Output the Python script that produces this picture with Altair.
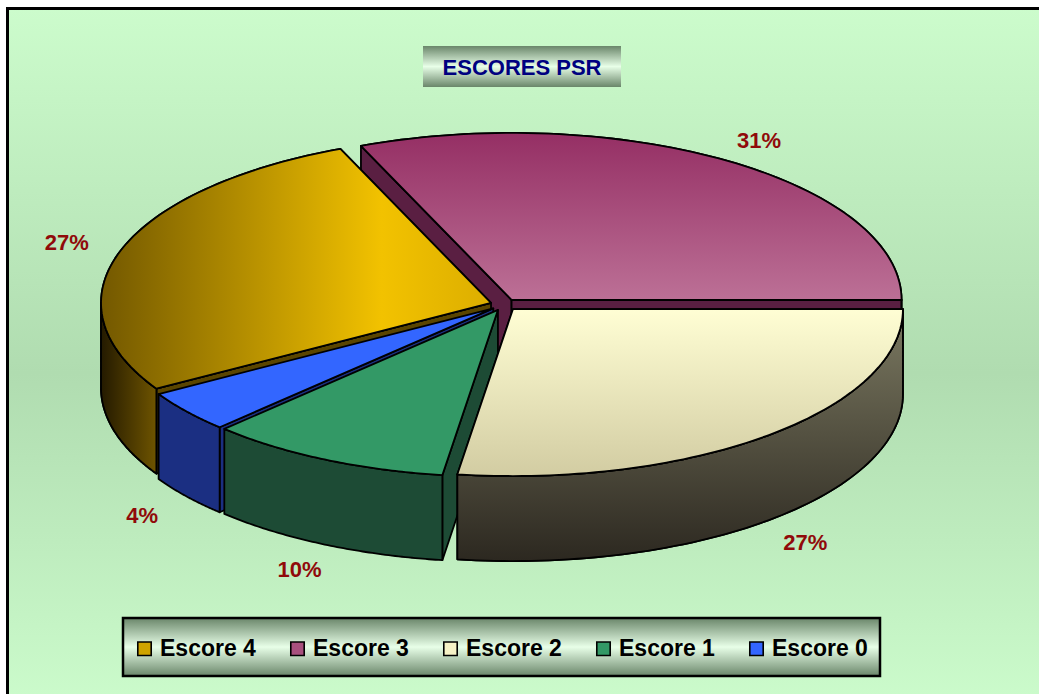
import altair as alt
import pandas as pd

# ---------------- data ----------------
categories = ["Escore 4", "Escore 3", "Escore 2", "Escore 1", "Escore 0"]
values = [27, 31, 27, 10, 4]

top_colors = ["#cfa400", "#a8507e", "#f6f2c6", "#339966", "#3366ff"]
wall_colors = ["#5a4500", "#5a1f42", "#5a5842", "#1d4b35", "#1b2f82"]
label_color = "#900a0a"

# ---------------- geometry / style parameters ----------------
W, H = 1039, 694
START = -120.9        # first slice angle (deg, clockwise from 12 o'clock)
TILT = 0.428          # ellipse y/x ratio
DEPTH = 0.218         # pie thickness (radius units)
EXPLODE = 0.035       # slice explosion (radius units)
N = 72                # arc resolution
LR = 1.18             # label radial factor
LDROP = 0.229         # label drop for front labels
X_DOMAIN = [-1.2923, 1.3718]
Y_DOMAIN = [-0.9982, 0.7813]

df = pd.DataFrame({"cat": categories, "value": values, "idx": list(range(len(values)))})

xs = alt.Scale(domain=X_DOMAIN, nice=False, zero=False)
ys = alt.Scale(domain=Y_DOMAIN, nice=False, zero=False)
X = alt.X("x:Q", scale=xs, axis=None)
Y = alt.Y("y:Q", scale=ys, axis=None)


def grad(stops, horizontal=False):
    return alt.Gradient(
        gradient="linear", x1=0, y1=0, x2=1 if horizontal else 0, y2=0 if horizontal else 1,
        stops=[alt.GradientStop(color=c, offset=o) for o, c in stops],
    )


# gradient overlays (style only)
top_grads = {
    "Escore 4": grad([(0, "#735800"), (0.72, "#f2c200"), (1, "#dcae00")], horizontal=True),
    "Escore 3": grad([(0, "#952f64"), (1, "#bc7096")]),
    "Escore 2": grad([(0, "#fffed4"), (1, "#d2cca2")]),
}
wall_grads = {
    "Escore 4": grad([(0, "#241a00"), (1, "#6e5400")], horizontal=True),
    "Escore 2": grad([(0, "#7c7a62"), (1, "#2c2820")]),
}


def base():
    return (
        alt.Chart(df)
        .transform_joinaggregate(total="sum(value)")
        .transform_window(cum="sum(value)", sort=[alt.SortField("idx")], frame=[None, 0])
        .transform_calculate(a1=f"{START} + 360*datum.cum/datum.total")
        .transform_calculate(a0="datum.a1 - 360*datum.value/datum.total")
        .transform_calculate(mid="(datum.a0 + datum.a1)/2")
        .transform_calculate(ex=f"{EXPLODE}*sin(datum.mid*PI/180)")
        .transform_calculate(ey=f"{EXPLODE * TILT}*cos(datum.mid*PI/180)")
    )


def faces_geom():
    return (
        base()
        .transform_calculate(s="sequence(0, 2)")
        .transform_flatten(["s"])
        .transform_calculate(fa="(datum.s == 0 ? datum.a0 : datum.a1)*PI/180")
        .transform_filter("datum.s == 0 ? sin(datum.fa) < 0 : sin(datum.fa) > 0")
        .transform_calculate(depth="cos(datum.fa)")
        .transform_window(r="row_number()", sort=[alt.SortField("depth", order="descending")])
        .transform_calculate(key="datum.cat + '-' + datum.s")
        .transform_calculate(p="sequence(0, 4)")
        .transform_flatten(["p"])
        .transform_calculate(rim="(datum.p == 1 || datum.p == 2) ? 1 : 0")
        .transform_calculate(x="datum.ex + datum.rim*sin(datum.fa)")
        .transform_calculate(y=f"datum.ey + datum.rim*{TILT}*cos(datum.fa) - (datum.p >= 2 ? {DEPTH} : 0)")
    )


def walls_geom():
    return (
        base()
        .transform_calculate(lo="datum.a0 < -90 ? datum.a0 : max(datum.a0, 90)")
        .transform_calculate(hi="datum.a0 < -90 ? min(datum.a1, -90) : min(datum.a1, 270)")
        .transform_filter("datum.hi > datum.lo")
        .transform_calculate(k=f"sequence(0, {2 * N + 2})")
        .transform_flatten(["k"])
        .transform_calculate(j=f"datum.k <= {N} ? datum.k : {2 * N + 1} - datum.k")
        .transform_calculate(th=f"(datum.lo + (datum.hi - datum.lo)*datum.j/{N})*PI/180")
        .transform_calculate(x="datum.ex + sin(datum.th)")
        .transform_calculate(y=f"datum.ey + {TILT}*cos(datum.th) - (datum.k <= {N} ? 0 : {DEPTH})")
    )


def tops_geom():
    return (
        base()
        .transform_calculate(k=f"sequence(-1, {N + 1})")
        .transform_flatten(["k"])
        .transform_calculate(th=f"(datum.a0 + (datum.a1 - datum.a0)*max(datum.k, 0)/{N})*PI/180")
        .transform_calculate(x="datum.ex + (datum.k < 0 ? 0 : sin(datum.th))")
        .transform_calculate(y=f"datum.ey + (datum.k < 0 ? 0 : {TILT}*cos(datum.th))")
    )


line_kw = dict(interpolate="linear-closed", stroke="black", strokeWidth=1.8, strokeJoin="round")
wall_scale = alt.Scale(domain=categories, range=wall_colors)

layers = []

# background and title
one = alt.Data(values=[{}])
bg = alt.Chart(one).mark_rect(
    fill=grad([(0, "#ccfccc"), (0.52, "#b0dcb0"), (1, "#ccfccc")]),
    stroke="black", strokeWidth=3,
).encode(x=alt.value(7.5), x2=alt.value(1060), y=alt.value(8.5), y2=alt.value(710))
box_grad = grad([(0, "#6a866a"), (0.5, "#e8ffe8"), (1, "#6a866a")])
title_box = alt.Chart(one).mark_rect(fill=box_grad).encode(
    x=alt.value(423), x2=alt.value(621), y=alt.value(46), y2=alt.value(87)
)
title_text = alt.Chart(one).mark_text(
    text="ESCORES PSR", font="Liberation Sans", fontSize=22, fontWeight="bold", color="#000080",
    align="center", baseline="middle",
).encode(x=alt.value(522), y=alt.value(68))
legend_box = alt.Chart(one).mark_rect(fill=box_grad, stroke="black", strokeWidth=2.5).encode(
    x=alt.value(123), x2=alt.value(880), y=alt.value(618), y2=alt.value(676)
)
layers += [bg, title_box, title_text, legend_box]

# radial cut faces, back to front
for r in range(1, 2 * len(categories) + 1):
    layers.append(
        faces_geom()
        .transform_filter(f"datum.r == {r}")
        .mark_line(**line_kw)
        .encode(x=X, y=Y, order="p:Q", detail="key:N", fill=alt.Fill("cat:N", scale=wall_scale, legend=None))
    )

# outer walls
layers.append(
    walls_geom().mark_line(**line_kw).encode(
        x=X, y=Y, order="k:Q", detail="cat:N", fill=alt.Fill("cat:N", scale=wall_scale, legend=None)
    )
)
for cat, g in wall_grads.items():
    layers.append(
        walls_geom().transform_filter(alt.datum.cat == cat).mark_line(fill=g, **line_kw)
        .encode(x=X, y=Y, order="k:Q", detail="cat:N")
    )

# top faces (with legend)
layers.append(
    tops_geom().mark_line(**line_kw).encode(
        x=X, y=Y, order="k:Q", detail="cat:N",
        fill=alt.Fill(
            "cat:N",
            scale=alt.Scale(domain=categories, range=top_colors),
            legend=alt.Legend(
                title=None,
                orient="none",
                legendX=133,
                legendY=637,
                direction="horizontal",
                symbolType="square",
                symbolSize=180,
                symbolStrokeColor="black",
                symbolStrokeWidth=1.6,
                labelFont="Liberation Sans",
                labelFontSize=23,
                labelFontWeight="bold",
                labelColor="black",
                labelOffset=4,
                columnPadding=30,
                padding=0,
            ),
        ),
    )
)
for cat, g in top_grads.items():
    layers.append(
        tops_geom().transform_filter(alt.datum.cat == cat).mark_line(fill=g, **line_kw)
        .encode(x=X, y=Y, order="k:Q", detail="cat:N")
    )

# percentage labels
layers.append(
    base()
    .transform_calculate(lx=f"{LR}*sin(datum.mid*PI/180)")
    .transform_calculate(ly=f"{LR * TILT}*cos(datum.mid*PI/180) - (cos(datum.mid*PI/180) < 0 ? {LDROP} : 0)")
    .transform_calculate(txt="format(datum.value/datum.total, '.0%')")
    .mark_text(font="Liberation Sans", fontSize=22, fontWeight="bold", color=label_color, baseline="middle", align="center")
    .encode(x=alt.X("lx:Q", scale=xs, axis=None), y=alt.Y("ly:Q", scale=ys, axis=None), text="txt:N")
)

chart = (
    alt.layer(*layers)
    .resolve_scale(fill="independent")
    .properties(width=W, height=H, padding=0, autosize="none", background="white")
    .configure_view(stroke=None)
)

chart.save("out.html", embed_options={"renderer": "svg", "actions": False})
